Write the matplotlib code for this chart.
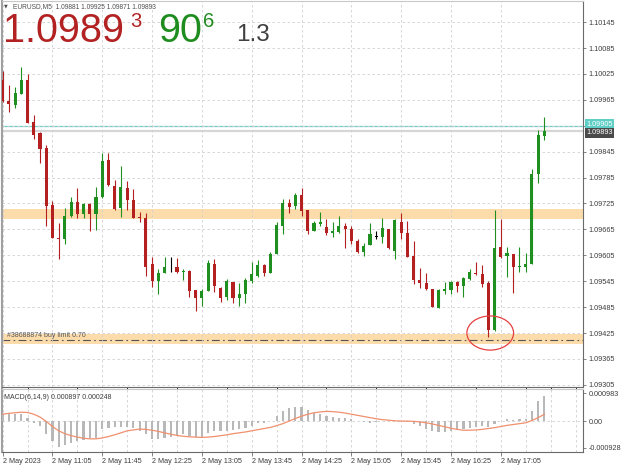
import matplotlib
matplotlib.use('Agg')
import matplotlib.pyplot as plt
import matplotlib.transforms as mtransforms
from matplotlib.patches import Ellipse
import numpy as np

plt.rcParams['font.family'] = ['Liberation Sans', 'DejaVu Sans']

# EURUSD M5 candles (bar 0 = 2 May 10:25)
opens = [1.10011, 1.09962, 1.09953, 1.09979, 1.10012, 1.09914, 1.09888, 1.09853, 1.09722, 1.09646,
         1.09643, 1.09695, 1.09729, 1.09701, 1.09723, 1.09701, 1.09739, 1.09826, 1.09766, 1.09714,
         1.09760, 1.09732, 1.09694, 1.09692, 1.09585, 1.09546, 1.09564, 1.09577, 1.09577, 1.09567,
         1.09569, 1.09524, 1.09507, 1.09523, 1.09585, 1.09530, 1.09509, 1.09543, 1.09507, 1.09515,
         1.09546, 1.09556, 1.09583, 1.09564, 1.09608, 1.09674, 1.09726, 1.09720, 1.09744, 1.09710,
         1.09662, 1.09677, 1.09671, 1.09656, 1.09658, 1.09674, 1.09666, 1.09637, 1.09612, 1.09629,
         1.09648, 1.09647, 1.09666, 1.09616, 1.09682, 1.09656, 1.09604, 1.09548, 1.09540, 1.09527,
         1.09483, 1.09523, 1.09525, 1.09543, 1.09533, 1.09550, 1.09565, 1.09562, 1.09540, 1.09431,
         1.09625, 1.09604, 1.09608, 1.09577, 1.09579, 1.09584, 1.09794, 1.09881]
highs = [1.10033, 1.10000, 1.09994, 1.10042, 1.10025, 1.09929, 1.09890, 1.09860, 1.09730, 1.09679,
         1.09714, 1.09741, 1.09762, 1.09726, 1.09726, 1.09764, 1.09843, 1.09843, 1.09780, 1.09812,
         1.09776, 1.09758, 1.09706, 1.09704, 1.09602, 1.09573, 1.09601, 1.09601, 1.09598, 1.09573,
         1.09570, 1.09525, 1.09528, 1.09594, 1.09597, 1.09531, 1.09550, 1.09544, 1.09540, 1.09552,
         1.09590, 1.09594, 1.09584, 1.09612, 1.09681, 1.09735, 1.09735, 1.09750, 1.09761, 1.09711,
         1.09685, 1.09705, 1.09689, 1.09681, 1.09695, 1.09679, 1.09672, 1.09643, 1.09633, 1.09679,
         1.09662, 1.09692, 1.09667, 1.09689, 1.09703, 1.09685, 1.09637, 1.09575, 1.09564, 1.09528,
         1.09527, 1.09543, 1.09545, 1.09545, 1.09554, 1.09573, 1.09589, 1.09583, 1.09546, 1.09710,
         1.09689, 1.09625, 1.09609, 1.09625, 1.09611, 1.09805, 1.09896, 1.09925]
lows = [1.09961, 1.09937, 1.09946, 1.09978, 1.09911, 1.09875, 1.09818, 1.09674, 1.09644, 1.09596,
        1.09631, 1.09694, 1.09691, 1.09692, 1.09662, 1.09664, 1.09738, 1.09766, 1.09711, 1.09693,
        1.09711, 1.09691, 1.09681, 1.09557, 1.09532, 1.09515, 1.09563, 1.09566, 1.09563, 1.09548,
        1.09508, 1.09477, 1.09488, 1.09522, 1.09521, 1.09496, 1.09502, 1.09495, 1.09488, 1.09494,
        1.09542, 1.09555, 1.09557, 1.09563, 1.09607, 1.09654, 1.09704, 1.09712, 1.09695, 1.09654,
        1.09661, 1.09674, 1.09651, 1.09648, 1.09657, 1.09621, 1.09631, 1.09610, 1.09604, 1.09628,
        1.09643, 1.09633, 1.09620, 1.09597, 1.09643, 1.09601, 1.09539, 1.09530, 1.09525, 1.09485,
        1.09482, 1.09516, 1.09516, 1.09520, 1.09508, 1.09548, 1.09559, 1.09532, 1.09415, 1.09430,
        1.09598, 1.09554, 1.09517, 1.09567, 1.09566, 1.09584, 1.09773, 1.09871]
closes = [1.09963, 1.09955, 1.09980, 1.10011, 1.09912, 1.09884, 1.09852, 1.09720, 1.09645, 1.09642,
          1.09695, 1.09729, 1.09701, 1.09723, 1.09701, 1.09741, 1.09824, 1.09767, 1.09712, 1.09764,
          1.09732, 1.09692, 1.09691, 1.09579, 1.09546, 1.09565, 1.09577, 1.09577, 1.09567, 1.09569,
          1.09523, 1.09507, 1.09523, 1.09588, 1.09535, 1.09507, 1.09546, 1.09507, 1.09516, 1.09548,
          1.09561, 1.09583, 1.09564, 1.09608, 1.09675, 1.09726, 1.09717, 1.09744, 1.09708, 1.09662,
          1.09679, 1.09681, 1.09656, 1.09661, 1.09674, 1.09665, 1.09637, 1.09612, 1.09627, 1.09654,
          1.09648, 1.09669, 1.09621, 1.09687, 1.09656, 1.09602, 1.09548, 1.09542, 1.09527, 1.09486,
          1.09525, 1.09528, 1.09544, 1.09533, 1.09553, 1.09567, 1.09562, 1.09539, 1.09432, 1.09623,
          1.09602, 1.09610, 1.09579, 1.09580, 1.09584, 1.09794, 1.09884, 1.09893]

# MACD(6,14,9): main (histogram) and signal, in units of 1e-5
macd_main = np.array([25, 25, 25, 25, 13, -5, -15, -45, -70, -90,
                      -82, -75, -70, -65, -57, -57, -25, -23, -20, -18,
                      -18, -23, -35, -45, -62, -62, -57, -55, -50, -45,
                      -50, -53, -55, -40, -35, -35, -32, -30, -25, -23,
                      -15, -7, -5, 3, 20, 35, 45, 50, 50, 40,
                      30, 25, 20, 15, 13, 10, 7, 1, -3, -5,
                      -3, 1, 3, 2, 1, -2, -8, -15, -25, -35,
                      -38, -37, -33, -30, -28, -22, -18, -15, -18, -10,
                      1, 7, 5, 7, 7, 37, 70, 89.7]) * 1e-5
macd_signal = np.array([25, 28, 30, 32, 31, 25, 15, 0, -18, -33,
                        -43, -50, -55, -59, -61, -61, -58, -53, -47, -40,
                        -33, -30, -27, -28, -31, -35, -40, -45, -49, -52,
                        -54, -55, -56, -55, -53, -50, -47, -43, -40, -37,
                        -33, -29, -25, -21, -15, -8, 1, 10, 18, 25,
                        30, 33, 35, 34, 32, 29, 25, 21, 17, 13,
                        9, 6, 4, 2, 1, 1, 0, -2, -5, -9,
                        -14, -19, -24, -28, -31, -31, -30, -28, -25, -22,
                        -18, -14, -11, -8, -5, 3, 13, 24.8]) * 1e-5

time_labels = ['2 May 2023', '2 May 11:05', '2 May 11:45', '2 May 12:25', '2 May 13:05',
               '2 May 13:45', '2 May 14:25', '2 May 15:05', '2 May 15:45', '2 May 16:25',
               '2 May 17:05']
price_ticks = [1.09305, 1.09365, 1.09425, 1.09485, 1.09545, 1.09605, 1.09665, 1.09725,
               1.09785, 1.09845, 1.09905, 1.09965, 1.10025, 1.10085, 1.10145]
macd_ticks = [0.000983, 0.0, -0.000928]
macd_tick_labels = ['0.000983', '0.00', '-0.000928']

ask_price = 1.09905
bid_price = 1.09893
zones = [(1.09689, 1.09713), (1.09399, 1.09422)]
order_price = 1.09410
order_label = '#38688874 buy limit 0.70'

BULL = '#1f8f1f'
BEAR = '#b42020'
GRID = '#d0d0d0'
TXT = '#3c3c3c'

W, H = 625, 469
fig = plt.figure(figsize=(W / 100, H / 100), dpi=100)


def fx(px):
    return px / W


def fy(py):
    return 1 - py / H


ax = fig.add_axes([fx(2), fy(387), fx(583) - fx(2), fy(1) - fy(387)])
ax2 = fig.add_axes([fx(2), fy(452), fx(583) - fx(2), fy(389) - fy(452)], sharex=ax)

x = np.arange(len(opens))
o, h, l, c = (np.array(v) for v in (opens, highs, lows, closes))
colors = np.where(c > o, BULL, np.where(c < o, BEAR, 'black'))

# zones and lines behind the candles
for lo, hi in zones:
    ax.axhspan(lo, hi, color='#fddcac', lw=0, zorder=0.5)
ax.axhline(bid_price, color='#d6d6d6', lw=1.6, zorder=1)
ax.axhline(ask_price, color='#6fcfc6', lw=0.9, zorder=1.2)
ax.axhline(order_price, color='#555555', lw=0.8, ls=(0, (7, 3, 1.5, 3)), zorder=1.5)

ax.vlines(x, l, h, colors=colors, lw=0.8, zorder=3)
body_lo = np.minimum(o, c)
body_h = np.maximum(np.abs(c - o), 1.2e-5)
ax.bar(x, body_h, 0.5, bottom=body_lo, color=colors, lw=0, zorder=4)

ax.add_patch(Ellipse((78.3, 1.09425), 7.5, 0.00079, fill=False, ec='#e84040', lw=0.9, zorder=5))

ax.set_xlim(-0.1, 93.2)
ax.set_ylim(1.09300, 1.10194)
ax.set_xticks(np.arange(0, 94, 4))
ax.tick_params(axis='x', length=0, labelbottom=False)
ax.yaxis.tick_right()
ax.set_yticks(price_ticks)
# the ask tag sits on top of the 1.09905 level, so that tick keeps no label of its own
ax.set_yticklabels(['' if p == ask_price else f'{p:.5f}' for p in price_ticks])
ax.tick_params(axis='y', length=2.5, width=0.6, color='#707070', pad=1.5, labelsize=5.2, labelcolor=TXT)
ax.grid(True, color=GRID, lw=0.6, ls=(0, (3, 3)), zorder=0)

blend = mtransforms.blended_transform_factory(ax.transAxes, ax.transData)
ax.text(0.009, order_price + 0.00002, order_label, transform=blend, fontsize=5,
        color='#555555', va='bottom', ha='left', zorder=6)
# ask / bid tags on the price scale
ax.text(1.006, ask_price + 0.00004, f'{ask_price:.5f}', transform=blend, fontsize=5.2, color='white',
        va='center', ha='left', clip_on=False, zorder=10,
        bbox=dict(boxstyle='square,pad=0.2', fc='#5fcfc6', ec='none'))
ax.text(1.006, bid_price - 0.00004, f'{bid_price:.5f}', transform=blend, fontsize=5.2, color='white',
        va='center', ha='left', clip_on=False, zorder=11,
        bbox=dict(boxstyle='square,pad=0.2', fc='#4a4a4a', ec='none'))

# MACD panel
ax2.bar(x, macd_main, 0.35, color='#b8b8b8', lw=0, zorder=3)
ax2.plot(x, macd_signal, color='#f0906e', lw=0.9, zorder=4)
ax2.axhline(0, color=GRID, lw=0.6, ls=(0, (3, 3)), zorder=0)
ax2.set_ylim(-0.00107, 0.00113)
ax2.yaxis.tick_right()
ax2.set_yticks(macd_ticks)
ax2.set_yticklabels(macd_tick_labels)
ax2.tick_params(axis='y', length=2.5, width=0.6, color='#707070', pad=1.5, labelsize=5.2, labelcolor=TXT)
ax2.set_xticks(np.arange(0, 81, 8))
ax2.set_xticklabels(time_labels, ha='left')
ax2.set_xticks(np.arange(0, 94, 4), minor=True)
ax2.tick_params(axis='x', which='major', length=3, width=0.6, color='#707070', pad=1.5,
                labelsize=5.2, labelcolor=TXT)
ax2.tick_params(axis='x', which='minor', length=0)
ax2.grid(True, which='both', axis='x', color=GRID, lw=0.6, ls=(0, (3, 3)), zorder=0)

for a in (ax, ax2):
    a.set_facecolor('white')
    a.spines['left'].set_color('#a0a0a0')
    a.spines['left'].set_linewidth(1.5)
    a.spines['top'].set_color('#c8c8c8')
    a.spines['top'].set_linewidth(0.8)
    a.spines['right'].set_color('#6a6a6a')
    a.spines['right'].set_linewidth(0.8)
    a.spines['bottom'].set_color('#6a6a6a')
    a.spines['bottom'].set_linewidth(0.8)

ax2.text(0.004, 0.86, 'MACD(6,14,9) 0.000897 0.000248', transform=ax2.transAxes,
         fontsize=5, color=TXT, va='center', ha='left')

# header: symbol line and bid / spread display
fig.text(fx(4), fy(6), '\u25bc', fontsize=3.5, color='#505050', va='center', ha='left',
         family=['DejaVu Sans'])
fig.text(fx(13), fy(6.5), 'EURUSD,M5  1.09881 1.09925 1.09871 1.09893', fontsize=4.8,
         color='#505050', va='center', ha='left')
fig.text(fx(2.5), fy(41.7), '1.0989', fontsize=28.5, color='#b22222', va='baseline', ha='left')
fig.text(fx(130), fy(27.3), '3', fontsize=14.5, color='#b22222', va='baseline', ha='left')
fig.text(fx(158), fy(41.7), '90', fontsize=28.5, color='#1e8c1e', va='baseline', ha='left')
fig.text(fx(203), fy(27.3), '6', fontsize=14.5, color='#1e8c1e', va='baseline', ha='left')
fig.text(fx(236.5), fy(40.7), '1.3', fontsize=17.5, color='#404040', va='baseline', ha='left')

fig.savefig('out.png', dpi=100, facecolor='white')
